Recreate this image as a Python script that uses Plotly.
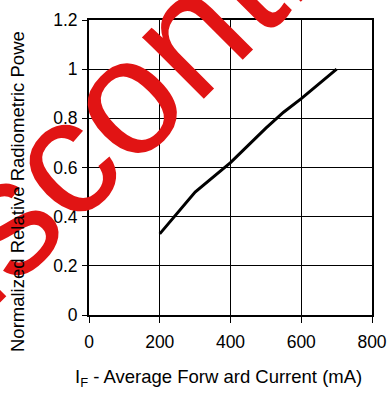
import plotly.graph_objects as go

# Relative radiometric power vs. average forward current
current_ma = [200, 300, 400, 450, 500, 550, 600, 650, 700]
rel_power = [0.33, 0.50, 0.62, 0.69, 0.76, 0.825, 0.88, 0.94, 1.0]

x_ticks = [0, 200, 400, 600, 800]
y_ticks = [0, 0.2, 0.4, 0.6, 0.8, 1.0, 1.2]
y_tick_text = ["0", "0.2", "0.4", "0.6", "0.8", "1", "1.2"]

x_title = "I<sub>F</sub> - Average Forw ard Current (mA)"
y_title = "Normalized Relative Radiometric Powe"
stamp = "Discontinued"

FONT = "Liberation Sans, Arial, sans-serif"
W, H = 389, 393
L, R, T, B = 89, 17, 20, 78
pw, ph = W - L - R, H - T - B


def px_to_paper(px, py):
    return (px - L) / pw, (H - B - py) / ph


fig = go.Figure()
fig.add_trace(go.Scatter(
    x=current_ma, y=rel_power, mode="lines",
    line=dict(color="black", width=3),
    showlegend=False, hoverinfo="skip",
))

axis_common = dict(
    showline=True, linecolor="black", linewidth=2, mirror=True,
    showgrid=True, gridcolor="black", gridwidth=1,
    ticks="outside", tickcolor="black", tickwidth=1,
    zeroline=False, automargin=False,
    tickfont=dict(family=FONT, size=17.5, color="black"),
)

fig.update_xaxes(range=[0, 800], tickvals=x_ticks, ticklen=6,
                 ticklabelstandoff=4, **axis_common)
fig.update_yaxes(range=[0, 1.2], tickvals=y_ticks, ticktext=y_tick_text,
                 ticklen=5, ticklabelstandoff=1, **axis_common)

xt = px_to_paper(218.5, 378)
yt = px_to_paper(17.5, 191.5)
st = px_to_paper(201, 21)

fig.update_layout(
    width=W, height=H, autosize=False,
    margin=dict(l=L, r=R, t=T, b=B, pad=0, autoexpand=False),
    paper_bgcolor="white", plot_bgcolor="white",
    font=dict(family=FONT, color="black"),
    annotations=[
        dict(text=stamp, xref="paper", yref="paper", x=st[0], y=st[1],
             showarrow=False, textangle=-45,
             font=dict(family=FONT, size=165, color="rgb(225,20,20)"),
             xanchor="center", yanchor="middle"),
        dict(text=x_title, xref="paper", yref="paper", x=xt[0], y=xt[1],
             showarrow=False, font=dict(family=FONT, size=18.5, color="black"),
             xanchor="center", yanchor="middle"),
        dict(text=y_title, xref="paper", yref="paper", x=yt[0], y=yt[1],
             showarrow=False, textangle=-90,
             font=dict(family=FONT, size=18.5, color="black"),
             xanchor="center", yanchor="middle"),
    ],
)

fig.write_html("out.html")
